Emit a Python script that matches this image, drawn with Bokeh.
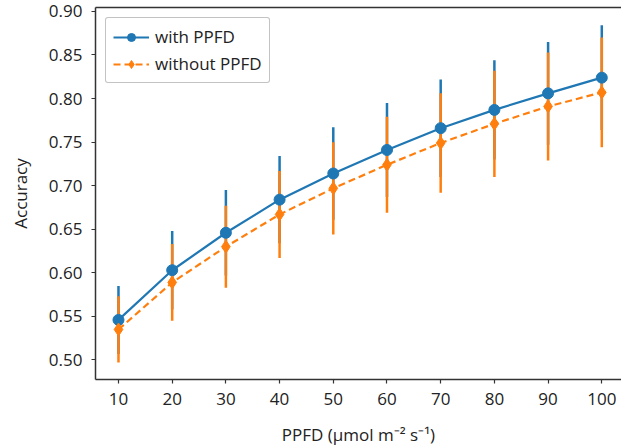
from bokeh.plotting import figure
from bokeh.models import (Range1d, FixedTicker, Legend, LegendItem, LinearAxis,
                          CustomJSTickFormatter)
from bokeh.embed import file_html
from bokeh.resources import INLINE
import numpy as np

ppfd = [10, 20, 30, 40, 50, 60, 70, 80, 90, 100]
acc_with = [0.546, 0.603, 0.646, 0.684, 0.714, 0.741, 0.766, 0.787, 0.806, 0.824]
err_with = [0.039, 0.045, 0.049, 0.050, 0.053, 0.054, 0.056, 0.057, 0.059, 0.060]
acc_without = [0.535, 0.589, 0.630, 0.667, 0.697, 0.724, 0.749, 0.771, 0.791, 0.807]
err_without = [0.038, 0.044, 0.047, 0.050, 0.053, 0.055, 0.057, 0.061, 0.062, 0.063]
y_ticks = [0.50, 0.55, 0.60, 0.65, 0.70, 0.75, 0.80, 0.85, 0.90]

BLUE = "#1f77b4"
ORANGE = "#ff7f0e"
FONT = "Open Sans"
TXT = "#222222"

p = figure(width=621, height=448, output_backend="svg", toolbar_location=None,
           x_range=Range1d(5.72, 103.67), y_range=Range1d(0.4776, 0.9045),
           min_border_left=95, min_border_top=7, min_border_right=0, min_border_bottom=60)
p.outline_line_color = None
p.grid.visible = False
p.background_fill_color = "white"

x = np.array(ppfd)
yw = np.array(acc_with); ew = np.array(err_with)
yo = np.array(acc_without); eo = np.array(err_without)

p.segment(x, yw - ew, x, yw + ew, line_color=BLUE, line_width=2.5)
p.segment(x, yo - eo, x, yo + eo, line_color=ORANGE, line_width=2.5)
lw = p.line(x, yw, line_color=BLUE, line_width=2.2)
sw = p.scatter(x, yw, marker="circle", size=11, fill_color=BLUE, line_color=BLUE)
lo = p.line(x, yo, line_color=ORANGE, line_width=2.2, line_dash="7 4")
so = p.scatter(x, yo, marker="diamond", size=13, fill_color=ORANGE, line_color=ORANGE)

for ax in (p.xaxis[0], p.yaxis[0]):
    ax.axis_line_color = "#333333"
    ax.axis_line_width = 1.5
    ax.major_tick_line_color = "#333333"
    ax.major_tick_line_width = 1.2
    ax.major_tick_out = 4
    ax.major_tick_in = 0
    ax.minor_tick_line_color = None
    ax.major_label_text_font = FONT
    ax.major_label_text_font_size = "17px"
    ax.major_label_text_color = TXT
    ax.axis_label_text_font = FONT
    ax.axis_label_text_font_size = "17px"
    ax.axis_label_text_font_style = "normal"
    ax.axis_label_text_color = TXT

p.xaxis[0].ticker = FixedTicker(ticks=ppfd)
p.yaxis[0].ticker = FixedTicker(ticks=y_ticks)
p.yaxis[0].formatter = CustomJSTickFormatter(code="return tick.toFixed(2);")
p.xaxis[0].axis_label = "PPFD (μmol m⁻² s⁻¹)"
p.yaxis[0].axis_label = "Accuracy"
p.xaxis[0].major_label_standoff = 9
p.yaxis[0].major_label_standoff = 9
p.xaxis[0].axis_label_standoff = 15
p.yaxis[0].axis_label_standoff = 14

top = LinearAxis(ticker=FixedTicker(ticks=[]), major_label_text_font_size="0px",
                 axis_line_color="#333333", axis_line_width=1.5,
                 major_tick_line_color=None, minor_tick_line_color=None,
                 major_label_standoff=0, axis_label=None)
p.add_layout(top, "above")

legend = Legend(items=[LegendItem(label="with PPFD", renderers=[lw, sw]),
                       LegendItem(label="without PPFD", renderers=[lo, so])],
                location="top_left", margin=10, padding=7, spacing=4,
                label_text_font=FONT, label_text_font_size="17px",
                label_text_color=TXT, glyph_width=36, glyph_height=20,
                label_standoff=6,
                border_line_color="#888888", border_line_width=1.5,
                background_fill_alpha=1.0)
if "border_radius" in Legend.properties():
    legend.border_radius = 3
p.add_layout(legend)

open("out.html", "w").write(file_html(p, INLINE))
